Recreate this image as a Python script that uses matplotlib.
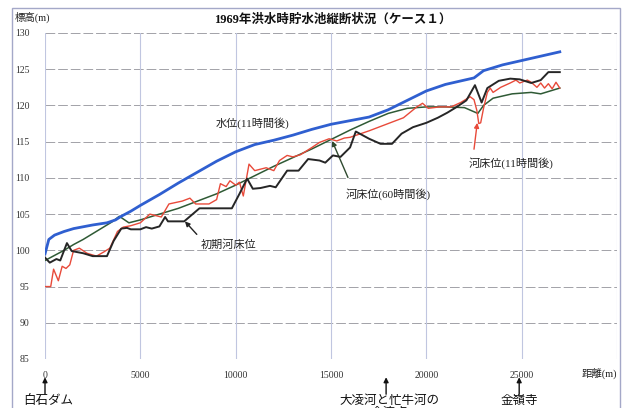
"""
1969年洪水時 貯水池縦断状況（ケース１）
水位・河床位の縦断図
"""

import matplotlib
matplotlib.use('Agg')
import matplotlib.pyplot as plt
from matplotlib.patches import Rectangle

plt.rcParams['font.family'] = ['Liberation Serif', 'Noto Sans CJK JP']
plt.rcParams['font.size'] = 7

# 水位 (11時間後)
wl_x = [0, 200, 500, 1000, 1500, 2500, 3250, 3700, 4000, 4500, 5000, 6000, 7000,
        8000, 9000, 10000, 11000, 12000, 13000, 14000, 15000, 16000, 17000, 18000,
        19000, 20000, 21000, 22000, 22500, 23000, 23500, 24000, 25000, 26000, 27000]
wl_y = [99.5, 101.5, 102.1, 102.6, 103.0, 103.5, 103.8, 104.2, 104.7, 105.4, 106.2,
        107.7, 109.3, 110.8, 112.3, 113.6, 114.6, 115.2, 115.9, 116.7, 117.4, 117.9,
        118.4, 119.4, 120.7, 122.0, 122.9, 123.5, 123.8, 124.8, 125.2, 125.6, 126.2,
        126.8, 127.4]

# 河床位 (60時間後)
bed60_x = [0, 500, 1000, 1500, 2000, 2500, 3000, 3500, 3900, 4400, 5000, 6000, 7000,
           8000, 9000, 10000, 11000, 12000, 13000, 14000, 15000, 16000, 17000, 18000,
           19000, 20000, 21000, 22000, 22700, 23000, 23500, 24500, 25500, 26000, 26500,
           27000]
bed60_y = [98.6, 99.3, 100.0, 100.8, 101.5, 102.3, 103.1, 103.9, 104.7, 103.8, 104.2,
           105.0, 105.8, 106.8, 107.8, 109.0, 110.3, 111.6, 112.8, 114.0, 115.3, 116.6,
           117.8, 118.9, 119.6, 119.8, 119.8, 119.7, 118.9, 120.0, 121.0, 121.6, 121.8,
           121.6, 122.0, 122.4]

# 河床位 (11時間後)
bed11_x = [0, 300, 450, 700, 900, 1100, 1300, 1500, 1800, 2200, 2700, 3100, 3400, 3800,
           4100, 4500, 5000, 5500, 5800, 6100, 6500, 7200, 7600, 7900, 8600, 9000, 9200,
           9500, 9700, 10000, 10200, 10400, 10700, 11000, 11600, 12000, 12300, 12700,
           13000, 13400, 14000, 14400, 14900, 15300, 15700, 16000, 17000, 18000, 18800,
           19500, 19800, 20100, 20700, 21300, 21800, 22300, 22500, 22650, 22750, 22850,
           23000, 23200, 23350, 23500, 23900, 24400, 24700, 24900, 25300, 25500, 25800,
           26000, 26200, 26400, 26600, 26800, 27000]
bed11_y = [95.0, 95.0, 97.4, 95.8, 97.8, 97.5, 98.0, 100.0, 100.3, 99.6, 99.2, 99.8,
           100.3, 102.6, 103.2, 103.4, 103.8, 105.0, 104.8, 104.6, 106.4, 106.8, 107.2,
           106.4, 106.4, 107.0, 109.2, 108.8, 109.6, 109.0, 109.4, 107.5, 111.9, 111.0,
           111.4, 111.0, 112.4, 113.1, 112.9, 113.2, 114.2, 114.9, 115.4, 115.1, 115.5,
           115.6, 116.5, 117.5, 118.3, 119.8, 120.3, 119.6, 119.8, 119.8, 120.4, 121.2,
           120.8, 119.3, 117.5, 117.6, 119.6, 121.8, 122.4, 121.8, 122.5, 123.1, 123.5,
           123.1, 123.5, 123.2, 122.5, 123.1, 122.4, 123.0, 122.3, 123.2, 122.4]

# 初期河床位
bed0_x = [0, 250, 600, 800, 1150, 1400, 2000, 2500, 3250, 3600, 4000, 4300, 4500, 5000,
          5300, 5600, 6000, 6300, 6450, 7300, 8100, 9800, 10200, 10600, 10900, 11300,
          11800, 12100, 12700, 13300, 13800, 14400, 14700, 15100, 15500, 16000, 16300,
          17000, 17600, 18200, 18700, 19300, 20000, 20600, 21100, 21600, 22100, 22550,
          22900, 23200, 23800, 24400, 24900, 25500, 26000, 26400, 27000]
bed0_y = [99.0, 98.3, 98.8, 98.6, 101.0, 99.9, 99.6, 99.2, 99.2, 101.3, 103.0, 103.1,
          102.9, 102.9, 103.2, 103.0, 103.3, 104.6, 104.0, 104.0, 105.8, 105.8, 107.8,
          109.9, 108.5, 108.6, 108.9, 108.7, 111.0, 111.0, 112.6, 112.4, 112.1, 113.1,
          112.9, 114.2, 116.4, 115.4, 114.7, 114.7, 116.1, 117.0, 117.6, 118.3, 119.0,
          119.8, 120.7, 122.8, 120.4, 122.4, 123.4, 123.7, 123.6, 123.1, 123.5, 124.6,
          124.6]

x_ticks = [0, 5000, 10000, 15000, 20000, 25000, 30000]
x_tick_labels = ['0', '5000', '10000', '15000', '20000', '25000', '']
y_ticks = [85, 90, 95, 100, 105, 110, 115, 120, 125, 130]

# 地点 (距離, 名称)
place_x = [0, 17890, 24870]
place_names = ['白石ダム', '大凌河と忙牛河の\n合流点', '金嶺寺']


def draw_profile(output_path):
    fig = plt.figure(figsize=(6.24, 4.08), dpi=100)
    ax = fig.add_axes([45 / 624, 1 - 359 / 408, 572 / 624, 326 / 408])

    # outer chart frame
    fig.patches.append(Rectangle((12 / 624, -0.05), 608 / 624, 1 - 8 / 408 + 0.05,
                                 transform=fig.transFigure, fill=False,
                                 edgecolor='#a4a8c8', linewidth=1.0))

    ax.set_xlim(0, 30000)
    ax.set_ylim(85, 130)
    for v in y_ticks:
        ax.axhline(v, color='#a2a2a8', linewidth=0.7, dashes=(10, 3), zorder=1)
    for v in x_ticks:
        ax.axvline(v, color='#c0c6e0', linewidth=0.8, zorder=1)
    for s in ax.spines.values():
        s.set_visible(False)

    ax.set_xticks(x_ticks)
    ax.set_xticklabels(x_tick_labels)
    ax.set_yticks(y_ticks)
    ax.tick_params(length=0, labelsize=7, colors='#333333')
    ax.tick_params(axis='x', pad=9)
    ax.tick_params(axis='y', pad=11)

    ax.plot(bed60_x, bed60_y, color='#2f5a35', linewidth=1.1, zorder=3)
    ax.plot(bed11_x, bed11_y, color='#e84a3a', linewidth=1.0, zorder=4)
    ax.plot(bed0_x, bed0_y, color='#262626', linewidth=1.4, zorder=5)
    ax.plot(wl_x, wl_y, color='#2f5fd0', linewidth=2.0, zorder=6)

    # series labels
    ax.text(10900, 117.6, '水位(11時間後)', fontsize=8, ha='center', va='center',
            color='#222222')
    ax.annotate('河床位(60時間後)', xy=(15060, 115.1), xytext=(18000, 107.8),
                fontsize=8, ha='center', va='center', color='#222222',
                arrowprops=dict(arrowstyle='-|>', color='#2f4a30', lw=1.0,
                                mutation_scale=7, shrinkA=6, shrinkB=0,
                                relpos=(0.08, 1.0)))
    ax.annotate('河床位(11時間後)', xy=(22670, 117.6), xytext=(24450, 112.0),
                fontsize=8, ha='center', va='center', color='#222222',
                arrowprops=dict(arrowstyle='-|>', color='#e84a3a', lw=1.0,
                                mutation_scale=7, shrinkA=4, shrinkB=0,
                                relpos=(0.05, 1.0)))
    ax.annotate('初期河床位', xy=(7340, 104.0), xytext=(9650, 100.8),
                fontsize=8, ha='center', va='center', color='#222222',
                arrowprops=dict(arrowstyle='-|>', color='#222222', lw=1.0,
                                mutation_scale=7, shrinkA=2, shrinkB=0,
                                relpos=(0.0, 1.0)))

    # points along the river below the axis
    xtr = ax.get_xaxis_transform()
    text_offset = [160, 180, 0]
    for x_pt, name, dx in zip(place_x, place_names, text_offset):
        ax.annotate('', xy=(x_pt, -0.056), xytext=(x_pt, -0.108), xycoords=xtr,
                    textcoords=xtr, annotation_clip=False,
                    arrowprops=dict(arrowstyle='-|>', color='#111111', lw=1.0,
                                    mutation_scale=7, shrinkA=0, shrinkB=0))
        ax.text(x_pt + dx, -0.110, name, transform=xtr, fontsize=9, ha='center',
                va='top', color='#111111', linespacing=0.95, clip_on=False)

    ax.text(1.0, -0.043, '距離(m)', transform=ax.transAxes, fontsize=7.5,
            ha='right', va='center', color='#222222')
    fig.text(15 / 624, 1 - 17 / 408, '標高(m)', fontsize=7.5, ha='left',
             va='center', color='#222222')
    fig.text(333 / 624, 1 - 20 / 408, '1969年洪水時貯水池縦断状況（ケース１）',
             fontsize=9, fontweight='bold', ha='center', va='center',
             color='#111111')

    fig.savefig(output_path, dpi=100)
    plt.close(fig)


def main():
    draw_profile('out.png')


if __name__ == '__main__':
    main()
